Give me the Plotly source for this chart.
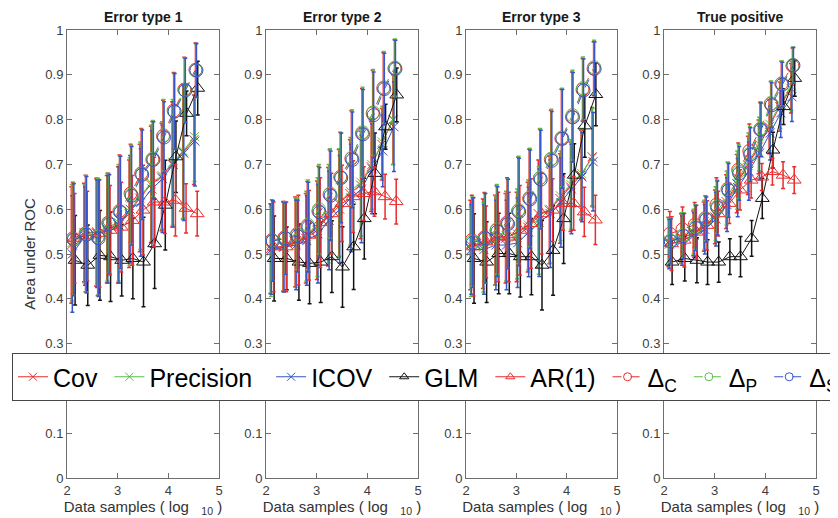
import plotly.graph_objects as go

# ---------------- data ----------------
x_log10 = [2.12, 2.37, 2.61, 2.82, 3.04, 3.26, 3.47, 3.69, 3.90, 4.11, 4.32, 4.54]
panel_titles = ["Error type 1", "Error type 2", "Error type 3", "True positive"]
series_names = ["Cov", "Precision", "ICOV", "GLM", "AR(1)", "Δ<sub>C</sub>", "Δ<sub>P</sub>", "Δ<sub>S</sub>"]
x_ticks = [2, 3, 4, 5]
y_ticks = [0, 0.1, 0.2, 0.3, 0.4, 0.5, 0.6, 0.7, 0.8, 0.9, 1]

# each list holds one row per panel (Error type 1, 2, 3, True positive)
cov = [
    [0.520, 0.548, 0.548, 0.555, 0.565, 0.590, 0.625, 0.655, 0.672, 0.700, 0.728, 0.755],
    [0.512, 0.517, 0.527, 0.535, 0.553, 0.583, 0.613, 0.635, 0.654, 0.695, 0.745, 0.800],
    [0.520, 0.523, 0.531, 0.535, 0.538, 0.560, 0.590, 0.598, 0.624, 0.650, 0.676, 0.717],
    [0.527, 0.535, 0.546, 0.561, 0.583, 0.617, 0.657, 0.698, 0.739, 0.784, 0.829, 0.870],
]
precision = [
    [0.525, 0.545, 0.550, 0.560, 0.570, 0.595, 0.630, 0.658, 0.675, 0.705, 0.730, 0.762],
    [0.505, 0.515, 0.525, 0.540, 0.560, 0.590, 0.615, 0.640, 0.660, 0.700, 0.750, 0.800],
    [0.505, 0.515, 0.530, 0.540, 0.545, 0.565, 0.575, 0.600, 0.630, 0.655, 0.680, 0.715],
    [0.525, 0.537, 0.550, 0.565, 0.590, 0.625, 0.665, 0.705, 0.745, 0.790, 0.835, 0.875],
]
icov = [
    [0.500, 0.540, 0.545, 0.555, 0.565, 0.600, 0.615, 0.645, 0.668, 0.700, 0.725, 0.752],
    [0.510, 0.515, 0.520, 0.530, 0.545, 0.575, 0.600, 0.625, 0.645, 0.690, 0.730, 0.784],
    [0.510, 0.510, 0.520, 0.520, 0.525, 0.549, 0.570, 0.590, 0.615, 0.645, 0.672, 0.706],
    [0.522, 0.530, 0.542, 0.555, 0.578, 0.610, 0.648, 0.685, 0.725, 0.770, 0.815, 0.851],
]
glm = [
    [0.486, 0.475, 0.497, 0.494, 0.486, 0.490, 0.482, 0.523, 0.609, 0.717, 0.814, 0.870],
    [0.490, 0.490, 0.482, 0.479, 0.482, 0.494, 0.471, 0.516, 0.579, 0.680, 0.784, 0.855],
    [0.490, 0.482, 0.501, 0.501, 0.494, 0.494, 0.475, 0.508, 0.579, 0.676, 0.786, 0.856],
    [0.482, 0.490, 0.486, 0.482, 0.482, 0.494, 0.494, 0.535, 0.624, 0.732, 0.829, 0.892],
]
ar1 = [
    [0.535, 0.540, 0.546, 0.553, 0.560, 0.575, 0.598, 0.616, 0.616, 0.620, 0.602, 0.590],
    [0.516, 0.516, 0.531, 0.542, 0.570, 0.590, 0.613, 0.628, 0.635, 0.639, 0.628, 0.617],
    [0.516, 0.527, 0.538, 0.538, 0.553, 0.568, 0.590, 0.598, 0.613, 0.613, 0.594, 0.576],
    [0.523, 0.531, 0.549, 0.564, 0.590, 0.613, 0.643, 0.665, 0.672, 0.684, 0.676, 0.665],
]
delta_c = [
    [0.535, 0.546, 0.537, 0.570, 0.596, 0.635, 0.680, 0.711, 0.763, 0.820, 0.867, 0.911],
    [0.531, 0.537, 0.542, 0.562, 0.596, 0.633, 0.672, 0.713, 0.769, 0.814, 0.870, 0.914],
    [0.531, 0.537, 0.553, 0.570, 0.596, 0.624, 0.669, 0.711, 0.758, 0.806, 0.867, 0.914],
    [0.545, 0.555, 0.565, 0.580, 0.610, 0.645, 0.688, 0.730, 0.778, 0.835, 0.880, 0.920],
]
delta_p = [
    [0.533, 0.545, 0.539, 0.568, 0.594, 0.633, 0.678, 0.713, 0.765, 0.818, 0.866, 0.909],
    [0.530, 0.536, 0.545, 0.565, 0.600, 0.635, 0.670, 0.715, 0.772, 0.816, 0.872, 0.916],
    [0.528, 0.535, 0.555, 0.568, 0.598, 0.626, 0.670, 0.713, 0.760, 0.810, 0.870, 0.917],
    [0.530, 0.542, 0.560, 0.579, 0.605, 0.644, 0.684, 0.724, 0.780, 0.836, 0.881, 0.922],
]
delta_s = [
    [0.532, 0.543, 0.535, 0.567, 0.593, 0.630, 0.677, 0.710, 0.760, 0.818, 0.865, 0.910],
    [0.529, 0.535, 0.540, 0.560, 0.593, 0.630, 0.670, 0.710, 0.767, 0.810, 0.868, 0.913],
    [0.525, 0.535, 0.550, 0.567, 0.594, 0.622, 0.666, 0.708, 0.757, 0.805, 0.865, 0.913],
    [0.528, 0.540, 0.558, 0.577, 0.603, 0.642, 0.680, 0.722, 0.777, 0.832, 0.878, 0.921],
]
# error bar half-lengths
err_cov = [
    [0.13, 0.11, 0.12, 0.12, 0.13, 0.12, 0.12, 0.13, 0.12, 0.14, 0.15, 0.10],
    [0.10, 0.10, 0.10, 0.10, 0.11, 0.11, 0.12, 0.12, 0.12, 0.10, 0.08, 0.10],
    [0.10, 0.10, 0.10, 0.10, 0.10, 0.10, 0.12, 0.12, 0.10, 0.10, 0.10, 0.11],
    [0.055, 0.055, 0.05, 0.055, 0.06, 0.06, 0.065, 0.065, 0.06, 0.06, 0.055, 0.055],
]
err_glm = [
    [0.10, 0.09, 0.10, 0.10, 0.08, 0.09, 0.10, 0.10, 0.10, 0.08, 0.05, 0.06],
    [0.095, 0.07, 0.085, 0.09, 0.09, 0.08, 0.09, 0.095, 0.09, 0.09, 0.05, 0.06],
    [0.10, 0.09, 0.09, 0.09, 0.09, 0.085, 0.10, 0.10, 0.10, 0.07, 0.07, 0.07],
    [0.05, 0.05, 0.05, 0.05, 0.045, 0.04, 0.045, 0.04, 0.045, 0.04, 0.04, 0.04],
]
err_ar1 = [
    [0.10, 0.10, 0.12, 0.10, 0.10, 0.10, 0.10, 0.10, 0.07, 0.08, 0.055, 0.05],
    [0.10, 0.10, 0.10, 0.10, 0.10, 0.09, 0.085, 0.08, 0.06, 0.055, 0.05, 0.05],
    [0.11, 0.08, 0.10, 0.10, 0.10, 0.10, 0.09, 0.07, 0.06, 0.06, 0.055, 0.055],
    [0.06, 0.06, 0.06, 0.055, 0.05, 0.045, 0.045, 0.04, 0.03, 0.03, 0.03, 0.03],
]
err_delta = [
    [0.125, 0.13, 0.13, 0.11, 0.125, 0.11, 0.10, 0.085, 0.08, 0.085, 0.072, 0.06],
    [0.09, 0.08, 0.08, 0.10, 0.10, 0.10, 0.10, 0.107, 0.10, 0.096, 0.08, 0.064],
    [0.10, 0.10, 0.10, 0.10, 0.12, 0.11, 0.11, 0.11, 0.11, 0.10, 0.07, 0.06],
    [0.05, 0.05, 0.05, 0.05, 0.06, 0.06, 0.06, 0.06, 0.06, 0.05, 0.05, 0.04],
]

# ---------------- style ----------------
RED = "rgb(235,45,45)"
GREEN = "rgb(90,190,70)"
BLUE = "rgb(55,85,200)"
BLACK = "rgb(20,20,20)"
FONT = "Liberation Sans, Arial, sans-serif"
AXC = "rgb(110,110,110)"
NB = "\u00a0"

# (values, errors, colour, symbol, size, dash, legend padding, small horizontal dodge)
styles = [
    (cov, err_cov, RED, "x-thin-open", 9, "solid", NB, -0.035),
    (precision, err_cov, GREEN, "x-thin-open", 9, "solid", NB * 2, -0.025),
    (icov, err_cov, BLUE, "x-thin-open", 9, "solid", NB, -0.015),
    (glm, err_glm, BLACK, "triangle-up-open", 12, "solid", NB, 0.04),
    (ar1, err_ar1, RED, "triangle-up-open", 12, "solid", NB, 0.03),
    (delta_c, err_delta, RED, "circle-open", 13, "dash", NB, -0.005),
    (delta_p, err_delta, GREEN, "circle-open", 13, "dash", NB, 0.005),
    (delta_s, err_delta, BLUE, "circle-open", 13, "dash", "", 0.015),
]

OFF = 8                    # page body margin of the browser
W, H = 870, 518
x_px = [(67, 219), (266, 418), (466, 617), (664, 816)]   # window pixels
y_top_px, y_bot_px = 30, 478


def fx(px):
    return (px - OFF) / W


def fy(py):
    return (H - (py - OFF)) / H


fig = go.Figure()
for p in range(4):
    xa = "x" if p == 0 else f"x{p+1}"
    ya = "y" if p == 0 else f"y{p+1}"
    for s, (vals, errs, col, sym, size, dash, pad, dodge) in enumerate(styles):
        fig.add_trace(go.Scatter(
            x=[v + dodge for v in x_log10], y=vals[p], xaxis=xa, yaxis=ya,
            name=series_names[s], showlegend=False,
            mode="lines+markers",
            line=dict(color=col, width=1, dash=dash),
            marker=dict(symbol=sym, size=size, color=col, line=dict(width=1, color=col)),
            error_y=dict(type="data", array=errs[p], visible=True, color=col, thickness=1.5, width=2),
        ))
# legend entries (small markers as in the reference legend)
for s, (vals, errs, col, sym, size, dash, pad, dodge) in enumerate(styles):
    fig.add_trace(go.Scatter(
        x=[None], y=[None], name=series_names[s] + pad, showlegend=True,
        mode="lines+markers",
        line=dict(color=col, width=1, dash=dash),
        marker=dict(symbol=sym, size=8, color=col, line=dict(width=1, color=col)),
    ))

layout = dict(
    width=W, height=H,
    margin=dict(l=0, r=0, t=0, b=0, autoexpand=False),
    paper_bgcolor="white", plot_bgcolor="white",
    font=dict(family=FONT, size=13, color="rgb(50,50,50)"),
    legend=dict(
        orientation="h", x=fx(12), xanchor="left", y=fy(353), yanchor="top",
        bgcolor="white", bordercolor="rgb(70,70,70)", borderwidth=1,
        font=dict(family=FONT, size=25, color="black"),
        itemwidth=30, tracegroupgap=0,
    ),
    showlegend=True,
)
annotations = []
for p in range(4):
    sx = "" if p == 0 else str(p + 1)
    x0, x1 = x_px[p]
    layout["xaxis" + sx] = dict(
        domain=[fx(x0), fx(x1)], range=[2, 5], anchor="y" + sx,
        tickvals=x_ticks, ticks="inside", ticklen=5, tickcolor=AXC,
        showline=True, linecolor=AXC, linewidth=1, mirror="ticks",
        showgrid=False, zeroline=False, tickfont=dict(size=13, color="rgb(60,60,60)"),
        title=dict(text="Data samples ( log   <sub>10</sub> )", standoff=2,
                   font=dict(size=15, color="rgb(50,50,50)")),
    )
    yax = dict(
        domain=[fy(y_bot_px), fy(y_top_px)], range=[0, 1], anchor="x" + sx,
        tickvals=y_ticks, ticks="inside", ticklen=5, tickcolor=AXC,
        showline=True, linecolor=AXC, linewidth=1, mirror="ticks",
        showgrid=False, zeroline=False, tickfont=dict(size=13, color="rgb(60,60,60)"),
    )
    if p == 0:
        yax["title"] = dict(text="Area under ROC", standoff=6,
                            font=dict(size=15, color="rgb(50,50,50)"))
    layout["yaxis" + sx] = yax
    annotations.append(dict(
        text="<b>" + panel_titles[p] + "</b>", x=fx((x0 + x1) / 2), y=fy(17),
        xref="paper", yref="paper", showarrow=False, xanchor="center", yanchor="middle",
        font=dict(family=FONT, size=14, color="rgb(25,25,25)"),
    ))
layout["annotations"] = annotations
fig.update_layout(**layout)
fig.write_html("out.html")
